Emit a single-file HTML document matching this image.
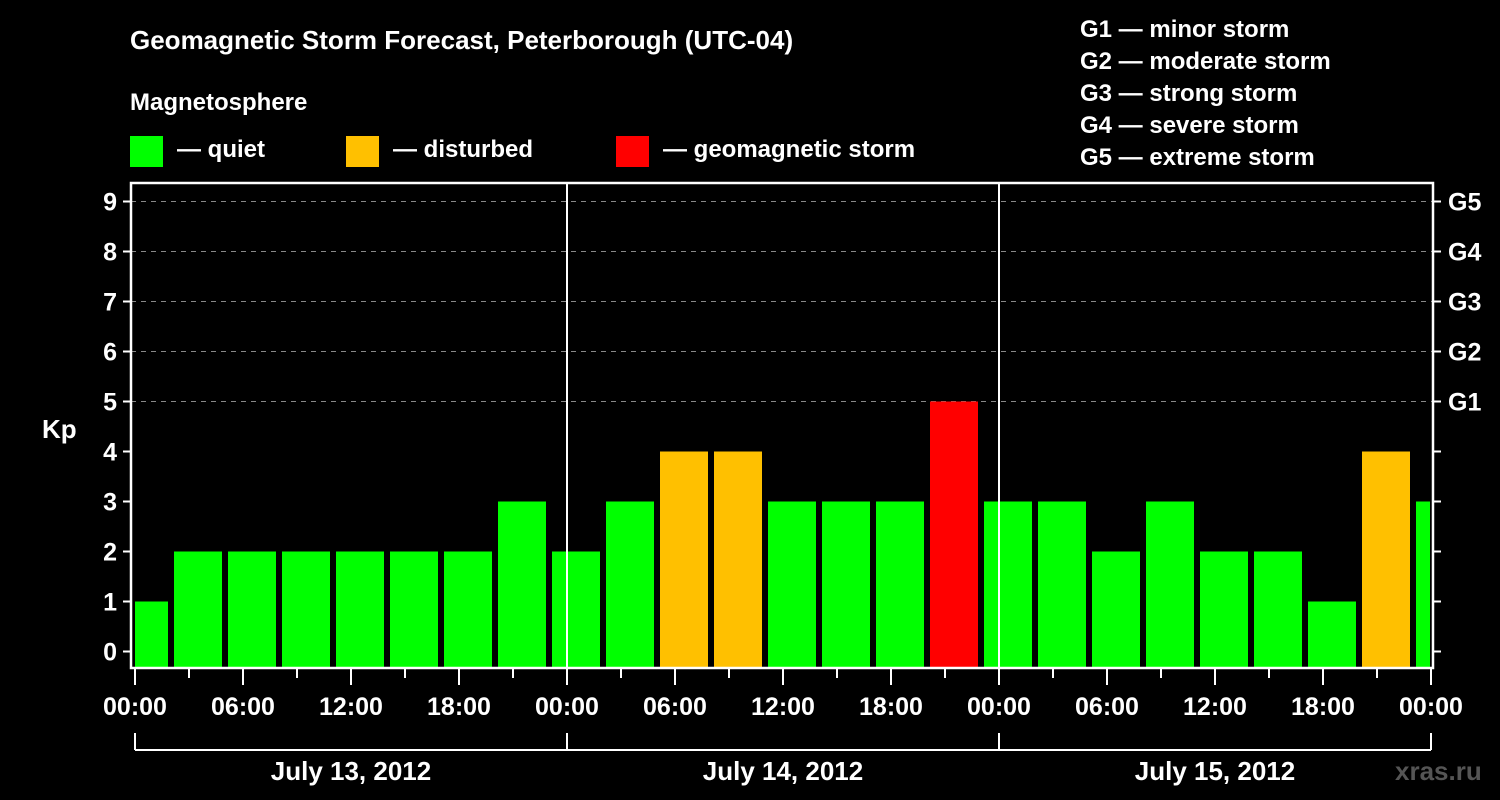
<!DOCTYPE html>
<html><head><meta charset="utf-8"><style>
body{margin:0;background:#000;}
svg{display:block;font-family:"Liberation Sans",sans-serif;font-weight:bold;}
</style></head><body>
<svg id="c" width="1500" height="800" xmlns="http://www.w3.org/2000/svg">
<rect width="1500" height="800" fill="#000"/>
<text x="130" y="49" fill="#fff" font-size="26">Geomagnetic Storm Forecast, Peterborough (UTC-04)</text>
<text x="130" y="110" fill="#fff" font-size="24">Magnetosphere</text>
<g><rect x="130" y="136" width="33" height="31" fill="#00ff00"/><text x="177" y="157" fill="#fff" font-size="24">— quiet</text></g>
<g><rect x="346" y="136" width="33" height="31" fill="#ffc000"/><text x="393" y="157" fill="#fff" font-size="24">— disturbed</text></g>
<g><rect x="616" y="136" width="33" height="31" fill="#ff0000"/><text x="663" y="157" fill="#fff" font-size="24">— geomagnetic storm</text></g>
<g fill="#fff" font-size="24">
<text x="1080" y="37">G1 — minor storm</text>
<text x="1080" y="69">G2 — moderate storm</text>
<text x="1080" y="101">G3 — strong storm</text>
<text x="1080" y="133">G4 — severe storm</text>
<text x="1080" y="165">G5 — extreme storm</text>
</g>
<text x="42" y="438" fill="#fff" font-size="26">Kp</text>
<text x="1395" y="780" fill="#555" font-size="26">xras.ru</text>
<g id="grid"></g><g id="bars"></g><g id="axes"></g>
</svg>
<script>
const kpValues=[1,2,2,2,2,2,2,3,2,3,4,4,3,3,3,5,3,3,2,3,2,2,1,4,3];
const barHours=[0.5,3.5,6.5,9.5,12.5,15.5,18.5,21.5,24.5,27.5,30.5,33.5,36.5,39.5,42.5,45.5,48.5,51.5,54.5,57.5,60.5,63.5,66.5,69.5,72.5];
const kpTicks=[0,1,2,3,4,5,6,7,8,9];
const gLabels=["G1","G2","G3","G4","G5"];
const timeLabels=["00:00","06:00","12:00","18:00","00:00","06:00","12:00","18:00","00:00","06:00","12:00","18:00","00:00"];
const dayLabels=["July 13, 2012","July 14, 2012","July 15, 2012"];
const NS="http://www.w3.org/2000/svg";
const X0=135,PX=18,Y0=651.5,PY=50,PL=131,PR=1433,PT=183,PB=668;
const x=h=>X0+h*PX, y=v=>Y0-v*PY;
function mk(p,t,a){const e=document.createElementNS(NS,t);for(const k in a)e.setAttribute(k,a[k]);p.appendChild(e);return e;}
const grid=document.getElementById('grid'),bars=document.getElementById('bars'),axes=document.getElementById('axes');
for(let v=5;v<=9;v++){const l=mk(grid,'line',{x1:PL,x2:PR,y1:y(v),y2:y(v),stroke:'#888','stroke-dasharray':'5,5','stroke-width':1});

}
const clip=mk(mk(document.getElementById('c'),'defs',{}),'clipPath',{id:'pc'});mk(clip,'rect',{x:PL+4,y:PT,width:PR-PL-7,height:PB-PT});
bars.setAttribute('clip-path','url(#pc)');
kpValues.forEach((v,i)=>{const c=v>=5?'#ff0000':v>=4?'#ffc000':'#00ff00';
const r=mk(bars,'rect',{x:x(barHours[i])-24,width:48,y:y(v),height:PB-y(v),fill:c});

});
mk(axes,'rect',{x:PL,y:PT,width:PR-PL,height:PB-PT,fill:'none',stroke:'#fff','stroke-width':2.5});
[24,48].forEach(h=>mk(axes,'line',{x1:x(h),x2:x(h),y1:PT,y2:PB,stroke:'#fff','stroke-width':2}));
kpTicks.forEach(v=>{mk(axes,'line',{x1:PL-8,x2:PL,y1:y(v),y2:y(v),stroke:'#fff','stroke-width':2});
mk(axes,'line',{x1:PR,x2:PR+8,y1:y(v),y2:y(v),stroke:'#fff','stroke-width':2});
const t=mk(axes,'text',{x:PL-14,y:y(v)+9,fill:'#fff','font-size':25,'text-anchor':'end'});t.textContent=v;

});
gLabels.forEach((g,i)=>{const t=mk(axes,'text',{x:PR+15,y:y(5+i)+9,fill:'#fff','font-size':25});t.textContent=g;

});
for(let h=0;h<=72;h+=3){const maj=h%6===0;mk(axes,'line',{x1:x(h),x2:x(h),y1:PB,y2:maj?685:678,stroke:'#fff','stroke-width':2});}
timeLabels.forEach((s,i)=>{const t=mk(axes,'text',{x:x(i*6),y:715,fill:'#fff','font-size':25,'text-anchor':'middle'});t.textContent=s;

});
mk(axes,'line',{x1:x(0),x2:x(72),y1:750,y2:750,stroke:'#fff','stroke-width':2});
[0,24,48,72].forEach(h=>mk(axes,'line',{x1:x(h),x2:x(h),y1:733,y2:750,stroke:'#fff','stroke-width':2}));
dayLabels.forEach((s,i)=>{const t=mk(axes,'text',{x:x(i*24+12),y:780,fill:'#fff','font-size':26,'text-anchor':'middle'});t.textContent=s;

});
</script>
</body></html>
